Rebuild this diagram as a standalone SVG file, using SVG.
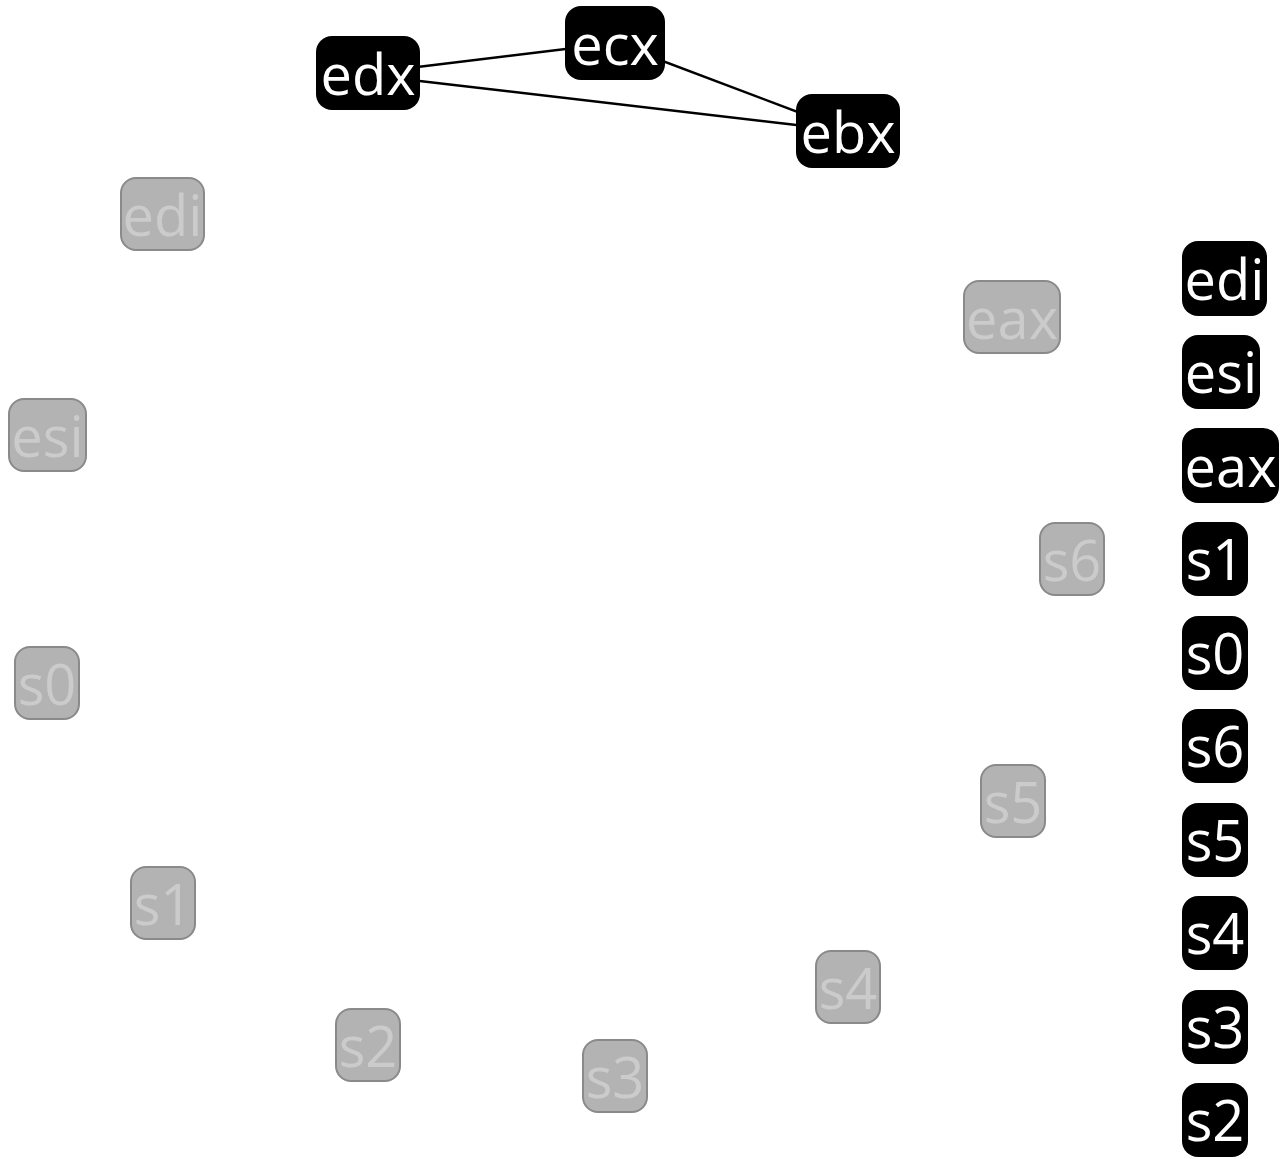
<svg xmlns="http://www.w3.org/2000/svg" width="1283" height="1159" viewBox="0 0 1283 1159">
<style>
.b rect{fill:#000}
.b text{fill:#fff}
.g rect{fill:#b3b3b3;stroke:#8a8a8a;stroke-width:2}
.g text{fill:#cbcbcb}
text{font-family:"Open Sans","Lato",sans-serif;font-size:56px;text-anchor:middle}
.e line{stroke:#000;stroke-width:2.5}
</style>
<rect width="1283" height="1159" fill="#fff"/>
<g class="e" id="connectors">
<line x1="368" y1="73" x2="615" y2="43"/>
<line x1="368" y1="75" x2="848" y2="131"/>
<line x1="615" y1="43" x2="848" y2="131"/>
</g>
<g id="edx" class="b"><rect x="316" y="36" width="104" height="74" rx="16"/><text x="368" y="95">edx</text></g>
<g id="ecx" class="b"><rect x="565" y="6" width="100" height="74" rx="16"/><text x="615" y="65">ecx</text></g>
<g id="ebx" class="b"><rect x="796" y="94" width="104" height="74" rx="16"/><text x="848" y="153">ebx</text></g>

<g id="g_edi" class="g"><rect x="121" y="178" width="83" height="72" rx="15"/><text x="162.5" y="236">edi</text></g>
<g id="g_eax" class="g"><rect x="964" y="281" width="96" height="72" rx="15"/><text x="1012" y="339">eax</text></g>
<g id="g_esi" class="g"><rect x="9" y="399" width="77" height="72" rx="15"/><text x="47.5" y="457">esi</text></g>
<g id="g_s6" class="g"><rect x="1040" y="523" width="64" height="72" rx="15"/><text x="1072" y="581">s6</text></g>
<g id="g_s0" class="g"><rect x="15" y="647" width="64" height="72" rx="15"/><text x="47" y="705">s0</text></g>
<g id="g_s5" class="g"><rect x="981" y="765" width="64" height="72" rx="15"/><text x="1013" y="823">s5</text></g>
<g id="g_s1" class="g"><rect x="131" y="867" width="64" height="72" rx="15"/><text x="163" y="925">s1</text></g>
<g id="g_s4" class="g"><rect x="816" y="951" width="64" height="72" rx="15"/><text x="848" y="1009">s4</text></g>
<g id="g_s2" class="g"><rect x="336" y="1009" width="64" height="72" rx="15"/><text x="368" y="1067">s2</text></g>
<g id="g_s3" class="g"><rect x="583" y="1040" width="64" height="72" rx="15"/><text x="615" y="1098">s3</text></g>

<g id="l_edi" class="b"><rect x="1182" y="241" width="85" height="75" rx="16"/><text x="1224.5" y="300">edi</text></g>
<g id="l_esi" class="b"><rect x="1182" y="335" width="78" height="74" rx="16"/><text x="1221" y="393">esi</text></g>
<g id="l_eax" class="b"><rect x="1182" y="428" width="97" height="75" rx="16"/><text x="1230.5" y="487">eax</text></g>
<g id="l_s1" class="b"><rect x="1182" y="522" width="66" height="74" rx="16"/><text x="1215" y="580">s1</text></g>
<g id="l_s0" class="b"><rect x="1182" y="616" width="66" height="74" rx="16"/><text x="1215" y="674">s0</text></g>
<g id="l_s6" class="b"><rect x="1182" y="709" width="66" height="74" rx="16"/><text x="1215" y="767">s6</text></g>
<g id="l_s5" class="b"><rect x="1182" y="803" width="66" height="74" rx="16"/><text x="1215" y="861">s5</text></g>
<g id="l_s4" class="b"><rect x="1182" y="896" width="66" height="74" rx="16"/><text x="1215" y="954">s4</text></g>
<g id="l_s3" class="b"><rect x="1182" y="990" width="66" height="74" rx="16"/><text x="1215" y="1048">s3</text></g>
<g id="l_s2" class="b"><rect x="1182" y="1083" width="66" height="74" rx="16"/><text x="1215" y="1141">s2</text></g>
</svg>
